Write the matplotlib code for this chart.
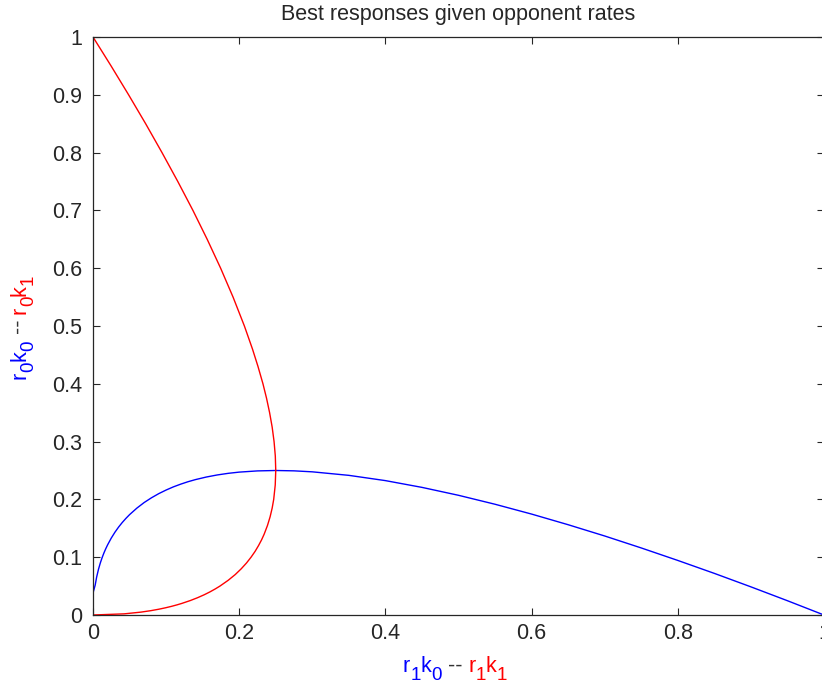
import matplotlib
matplotlib.use("Agg")
import matplotlib.pyplot as plt

plt.rcParams['font.family'] = ['Liberation Sans', 'DejaVu Sans']

# blue curve: best response r0k0 as a function of r1k0
blue_x = [0.0, 0.003, 0.005, 0.0075, 0.01, 0.0125, 0.015, 0.0175, 0.02, 0.025, 0.03, 0.035,
          0.04, 0.045, 0.05, 0.06, 0.07, 0.08, 0.09, 0.1, 0.11, 0.12, 0.13, 0.14, 0.155, 0.17,
          0.185, 0.2, 0.225, 0.25, 0.275, 0.3, 0.35, 0.4, 0.45, 0.5, 0.55, 0.6, 0.65,
          0.7, 0.75, 0.8, 0.85, 0.9, 0.95, 1.0]
blue_y = [0.038, 0.0518, 0.0657, 0.0791, 0.0900, 0.0993, 0.1075, 0.1148, 0.1214, 0.1331, 0.1432,
          0.1521, 0.1600, 0.1671, 0.1736, 0.1849, 0.1946, 0.2028, 0.2100, 0.2162, 0.2217, 0.2264,
          0.2306, 0.2342, 0.2387, 0.2423, 0.2451, 0.2472, 0.2493, 0.2500, 0.2494, 0.2477, 0.2416,
          0.2325, 0.2208, 0.2071, 0.1916, 0.1746, 0.1562, 0.1367, 0.1160, 0.0944, 0.0720, 0.0487,
          0.0247, 0.0]

# red curve: best response r1k1 as a function of r0k1
red_y = [0.0, 0.002, 0.005, 0.0075, 0.01, 0.0125, 0.015, 0.0175, 0.02, 0.025, 0.03, 0.035,
         0.04, 0.045, 0.05, 0.06, 0.07, 0.08, 0.09, 0.1, 0.11, 0.12, 0.13, 0.14, 0.155, 0.17,
         0.185, 0.2, 0.225, 0.25, 0.275, 0.3, 0.325, 0.35, 0.375, 0.4, 0.43, 0.46, 0.5,
         0.55, 0.6, 0.65, 0.7, 0.75, 0.8, 0.85, 0.9, 0.95, 1.0]
red_x = [0.0, 0.0427, 0.0657, 0.0791, 0.0900, 0.0993, 0.1075, 0.1148, 0.1214, 0.1331, 0.1432,
         0.1521, 0.1600, 0.1671, 0.1736, 0.1849, 0.1946, 0.2028, 0.2100, 0.2162, 0.2217, 0.2264,
         0.2306, 0.2342, 0.2387, 0.2423, 0.2451, 0.2472, 0.2493, 0.2500, 0.2494, 0.2477, 0.2451,
         0.2416, 0.2374, 0.2325, 0.2257, 0.2182, 0.2071, 0.1916, 0.1746, 0.1562, 0.1367, 0.1160,
         0.0944, 0.0720, 0.0487, 0.0247, 0.0]

x_ticks = [0, 0.2, 0.4, 0.6, 0.8, 1.0]
x_ticklabels = ["0", "0.2", "0.4", "0.6", "0.8", "1"]
y_ticks = [0, 0.1, 0.2, 0.3, 0.4, 0.5, 0.6, 0.7, 0.8, 0.9, 1.0]
y_ticklabels = ["0", "0.1", "0.2", "0.3", "0.4", "0.5", "0.6", "0.7", "0.8", "0.9", "1"]

title = "Best responses given opponent rates"
# (text, colour, is_subscript)
xlabel_parts = [("r", "blue", False), ("1", "blue", True), ("k", "blue", False), ("0", "blue", True),
                (" -- ", "#333333", False),
                ("r", "red", False), ("1", "red", True), ("k", "red", False), ("1", "red", True)]
ylabel_parts = [("r", "blue", False), ("0", "blue", True), ("k", "blue", False), ("0", "blue", True),
                (" -- ", "#333333", False),
                ("r", "red", False), ("0", "red", True), ("k", "red", False), ("1", "red", True)]

W, H = 822, 691
FS = 15.5
SUB_FS = 13.5
SUB_DROP = 8  # pixels

fig = plt.figure(figsize=(W / 100, H / 100), dpi=100)
ax = fig.add_axes([93 / W, 1 - 615 / H, (824 - 93) / W, (615 - 37) / H])

ax.plot(blue_x, blue_y, color=(0, 0, 1), lw=1.0)
ax.plot(red_x, red_y, color=(1, 0, 0), lw=1.0)

ax.set_xlim(0, 1)
ax.set_ylim(0, 1)
ax.set_xticks(x_ticks)
ax.set_xticklabels(x_ticklabels)
ax.set_yticks(y_ticks)
ax.set_yticklabels(y_ticklabels)
ax.tick_params(direction='in', length=5, width=0.8, top=True, right=True,
               labelsize=FS, colors='#262626')
ax.tick_params(axis='x', pad=6)
ax.tick_params(axis='y', pad=8)
for s in ax.spines.values():
    s.set_linewidth(0.9)
    s.set_color('#262626')

ax.set_title(title, fontsize=FS, pad=12, color='#262626')


def colored_label(parts, x0, y0, vertical=False):
    # lay the pieces out one after the other, centred on (x0, y0) in pixels
    renderer = fig.canvas.get_renderer()
    sizes = []
    for s, c, sub in parts:
        t = fig.text(0, 0, s, fontsize=SUB_FS if sub else FS)
        sizes.append(t.get_window_extent(renderer).width)
        t.remove()
    pos = -sum(sizes) / 2
    for (s, c, sub), w in zip(parts, sizes):
        fs = SUB_FS if sub else FS
        drop = SUB_DROP if sub else 0
        if vertical:
            fig.text((x0 + drop) / W, 1 - (y0 - pos) / H, s, color=c, fontsize=fs,
                     rotation=90, rotation_mode='anchor', ha='left', va='baseline')
        else:
            fig.text((x0 + pos) / W, 1 - (y0 + drop) / H, s, color=c, fontsize=fs,
                     ha='left', va='baseline')
        pos += w


colored_label(xlabel_parts, 455, 672)
colored_label(ylabel_parts, 25, 327, vertical=True)

fig.savefig("out.png", dpi=100)
